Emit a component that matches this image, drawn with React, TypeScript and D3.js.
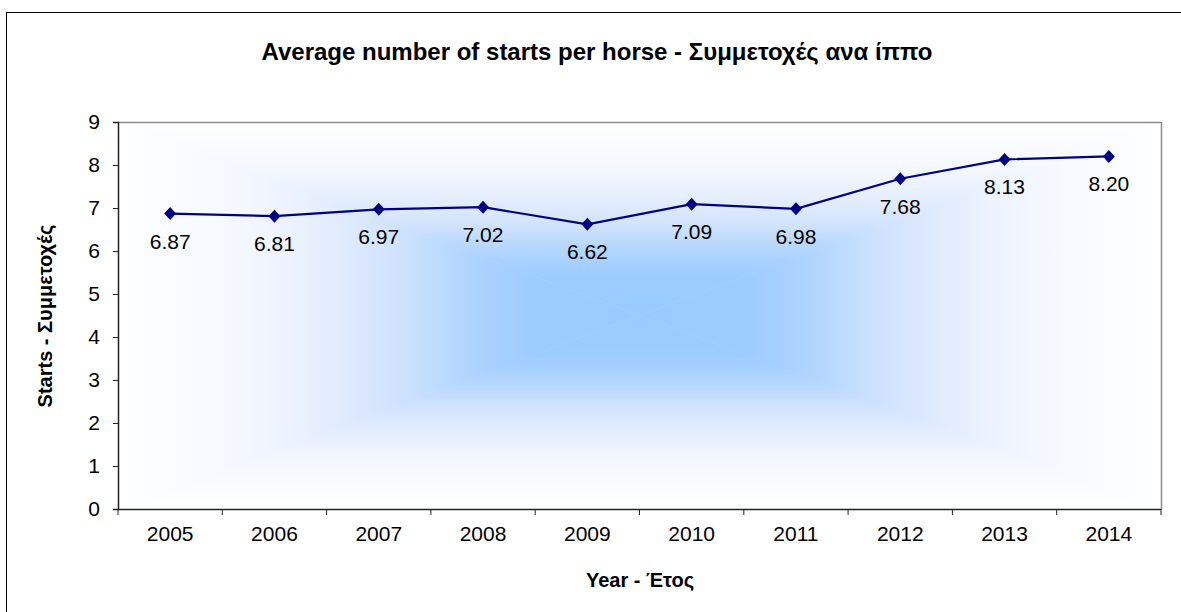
import React, { useEffect, useRef } from "react";
import * as d3 from "d3";

const years = ["2005", "2006", "2007", "2008", "2009", "2010", "2011", "2012", "2013", "2014"];
const starts = [6.87, 6.81, 6.97, 7.02, 6.62, 7.09, 6.98, 7.68, 8.13, 8.2];
const yTicks = [0, 1, 2, 3, 4, 5, 6, 7, 8, 9];

const W = 1181;
const H = 612;
const FONT = "Arial, 'Liberation Sans', sans-serif";

export default function App() {
  const ref = useRef<SVGSVGElement | null>(null);

  useEffect(() => {
    const svg = d3.select(ref.current);
    svg.selectAll("*").remove();

    const left = 118, right = 1161, top = 122, bottom = 509;
    const cx = (left + right) / 2, cy = (top + bottom) / 2;

    // outer chart border
    svg.append("rect")
      .attr("x", 6.5).attr("y", 12.5)
      .attr("width", W + 20).attr("height", H + 20)
      .attr("fill", "white").attr("stroke", "#000");

    // rectangular "from center" gradient built from four triangles
    const defs = svg.append("defs");
    const stops: [number, string][] = [
      [0, "#ffffff"], [0.1, "#fafcff"], [0.25, "#f3f7fe"], [0.35, "#eaf1fe"],
      [0.45, "#dde9fd"], [0.54, "#cfe2fd"], [0.63, "#b9d9fd"], [0.72, "#a8d0ff"],
      [0.8, "#9dccff"], [1, "#99cbff"],
    ];
    const pieces = [
      { id: "gTop", pts: [[left, top], [right, top], [cx, cy]], from: [cx, top] },
      { id: "gBot", pts: [[left, bottom], [right, bottom], [cx, cy]], from: [cx, bottom] },
      { id: "gLeft", pts: [[left, top], [left, bottom], [cx, cy]], from: [left, cy] },
      { id: "gRight", pts: [[right, top], [right, bottom], [cx, cy]], from: [right, cy] },
    ];
    pieces.forEach((p) => {
      const g = defs.append("linearGradient")
        .attr("id", p.id)
        .attr("gradientUnits", "userSpaceOnUse")
        .attr("x1", p.from[0]).attr("y1", p.from[1])
        .attr("x2", cx).attr("y2", cy);
      stops.forEach(([o, c]) => g.append("stop").attr("offset", o).attr("stop-color", c));
      svg.append("polygon")
        .attr("points", p.pts.map((d) => d.join(",")).join(" "))
        .attr("fill", `url(#${p.id})`)
        .attr("stroke", `url(#${p.id})`)
        .attr("stroke-width", 0.6);
    });

    // plot border (top / right grey)
    svg.append("path")
      .attr("d", `M${left},${top + 0.5}H${right + 0.5}V${bottom}`)
      .attr("fill", "none").attr("stroke", "#8c8c8c").attr("stroke-width", 1.5);

    const x = d3.scaleBand<string>().domain(years).range([left, right]);
    const y = d3.scaleLinear().domain([0, 9]).range([bottom, top]);

    // y axis
    const gy = svg.append("g").attr("transform", `translate(${left},0)`)
      .call(d3.axisLeft(y).tickValues(yTicks).tickSize(5).tickPadding(13).tickFormat(d3.format("d")));
    gy.select(".domain").attr("stroke", "#222").attr("stroke-width", 1.5);
    gy.selectAll(".tick line").attr("stroke", "#222");
    gy.selectAll("text").attr("font-size", 21).attr("font-family", FONT).attr("fill", "#000");

    // x axis, ticks between categories
    const gx = svg.append("g").attr("transform", `translate(0,${bottom})`)
      .call(d3.axisBottom(x).tickSize(0).tickPadding(17));
    gx.select(".domain").attr("stroke", "#222").attr("stroke-width", 1.5);
    gx.selectAll("text").attr("font-size", 21).attr("font-family", FONT).attr("fill", "#000");
    svg.append("g").selectAll("line")
      .data(years)
      .join("line")
      .attr("x1", (d) => x(d)!).attr("x2", (d) => x(d)!)
      .attr("y1", bottom).attr("y2", bottom + 6)
      .attr("stroke", "#222");
    svg.append("line")
      .attr("x1", right).attr("x2", right).attr("y1", bottom).attr("y2", bottom + 6)
      .attr("stroke", "#222");

    const cxOf = (i: number) => x(years[i])! + x.bandwidth() / 2;

    // line
    const line = d3.line<number>().x((d, i) => cxOf(i)).y((d) => y(d));
    svg.append("path").datum(starts)
      .attr("d", line)
      .attr("fill", "none").attr("stroke", "#000080").attr("stroke-width", 2.2);

    // markers
    svg.append("g").selectAll("path")
      .data(starts)
      .join("path")
      .attr("d", "M0,-6.5L6,0L0,6.5L-6,0Z")
      .attr("transform", (d, i) => `translate(${cxOf(i)},${y(d)})`)
      .attr("fill", "#000080");

    // data labels
    svg.append("g").selectAll("text")
      .data(starts)
      .join("text")
      .attr("x", (d, i) => cxOf(i))
      .attr("y", (d) => y(d) + 35)
      .attr("text-anchor", "middle")
      .attr("font-size", 21).attr("font-family", FONT)
      .text((d) => d.toFixed(2));

    // titles
    svg.append("text")
      .attr("x", 597).attr("y", 60)
      .attr("text-anchor", "middle")
      .attr("font-size", 24).attr("font-weight", "bold").attr("font-family", FONT)
      .text("Average number of starts per horse - Συμμετοχές ανα ίππο");
    svg.append("text")
      .attr("x", 640).attr("y", 587)
      .attr("text-anchor", "middle")
      .attr("font-size", 20).attr("font-weight", "bold").attr("font-family", FONT)
      .text("Year - Έτος");
    svg.append("text")
      .attr("transform", "translate(52,316) rotate(-90)")
      .attr("text-anchor", "middle")
      .attr("font-size", 20).attr("font-weight", "bold").attr("font-family", FONT)
      .text("Starts - Συμμετοχές");
  }, []);

  return (
    <div style={{ position: "fixed", left: 0, top: 0 }}>
      <svg ref={ref} width={W} height={H} style={{ display: "block", background: "white" }} />
    </div>
  );
}
